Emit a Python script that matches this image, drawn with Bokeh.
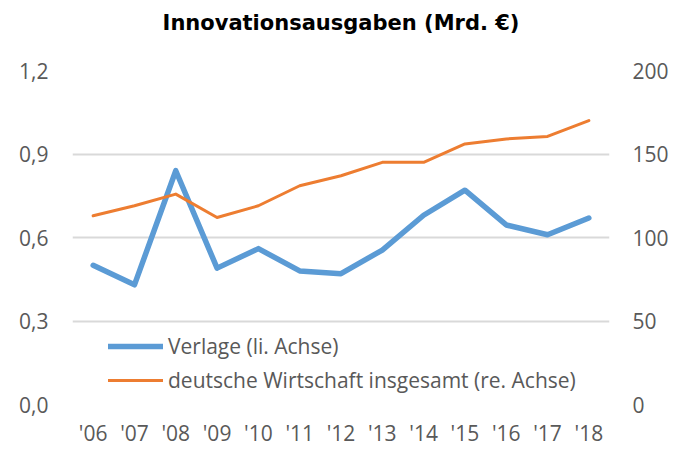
from bokeh.plotting import figure
from bokeh.models import (Range1d, LinearAxis, FixedTicker, Legend, LegendItem,
                          FactorRange, Title)
from bokeh.embed import file_html
from bokeh.resources import INLINE

# ---- data ----
years = ["'06", "'07", "'08", "'09", "'10", "'11", "'12",
         "'13", "'14", "'15", "'16", "'17", "'18"]
verlage = [0.50, 0.43, 0.84, 0.49, 0.56, 0.48, 0.47,
           0.555, 0.68, 0.77, 0.645, 0.61, 0.67]
wirtschaft = [113, 119, 126, 112, 119, 131, 137,
              145, 145, 156, 159, 160.5, 170]
left_ticks = [0, 0.3, 0.6, 0.9, 1.2]
left_labels = ["0,0", "0,3", "0,6", "0,9", "1,2"]
right_ticks = [0, 50, 100, 150, 200]
right_labels = ["0", "50", "100", "150", "200"]
title_text = "Innovationsausgaben (Mrd. €)"
legend_labels = ["Verlage (li. Achse)", "deutsche Wirtschaft insgesamt (re. Achse)"]

BLUE = "#5B9BD5"
ORANGE = "#ED7D31"
GRID = "#D9D9D9"
LABEL = "#595959"
FONT = "Open Sans"
FS = "21px"

p = figure(width=673, height=449, x_range=FactorRange(*years),
           y_range=Range1d(0, 1.2), output_backend="svg",
           toolbar_location=None, min_border_left=72, min_border_right=64,
           min_border_top=70, min_border_bottom=41)
p.title = None
# invisible spacer panel between frame and title (first added = nearest frame)
spacer = Title(text=" ", text_font_size="1px", standoff=33)
p.add_layout(spacer, "above")
t = Title(text=title_text, align="center", text_font="DejaVu Sans",
          text_font_style="bold", text_font_size="21px", text_color="#000000",
          standoff=0)
p.add_layout(t, "above")

p.extra_y_ranges = {"right": Range1d(0, 200)}

p.outline_line_color = None
p.xgrid.grid_line_color = None
p.ygrid.grid_line_color = GRID
p.ygrid.grid_line_width = 2
p.ygrid.ticker = FixedTicker(ticks=left_ticks)

def style_axis(ax):
    ax.axis_line_color = None
    ax.major_tick_line_color = None
    ax.minor_tick_line_color = None
    ax.major_tick_out = 0
    ax.major_tick_in = 0
    ax.minor_tick_out = 0
    ax.major_label_text_font = FONT
    ax.major_label_text_font_size = FS
    ax.major_label_text_color = LABEL

yl = p.yaxis[0]
yl.ticker = FixedTicker(ticks=left_ticks)
yl.major_label_overrides = {k: v for k, v in zip(left_ticks, left_labels)}
style_axis(yl)
yl.major_label_standoff = 24

yr = LinearAxis(y_range_name="right", ticker=FixedTicker(ticks=right_ticks))
yr.major_label_overrides = {k: v for k, v in zip(right_ticks, right_labels)}
style_axis(yr)
yr.major_label_standoff = 23
p.add_layout(yr, "right")

xa = p.xaxis[0]
style_axis(xa)
xa.major_label_standoff = 14

r1 = p.line(years, verlage, line_color=BLUE, line_width=5.5,
            line_join="round", line_cap="round")
r2 = p.line(years, wirtschaft, y_range_name="right", line_color=ORANGE,
            line_width=3, line_join="round", line_cap="round")

leg = Legend(items=[LegendItem(label=legend_labels[0], renderers=[r1]),
                    LegendItem(label=legend_labels[1], renderers=[r2])],
             location=(36, 9), orientation="vertical",
             glyph_width=55, glyph_height=30, label_height=30, spacing=4,
             label_standoff=5, padding=0, margin=0,
             border_line_color=None, background_fill_alpha=0,
             label_text_font=FONT, label_text_font_size=FS,
             label_text_color=LABEL)
p.add_layout(leg, "center")

open("out.html", "w").write(file_html(p, INLINE))
